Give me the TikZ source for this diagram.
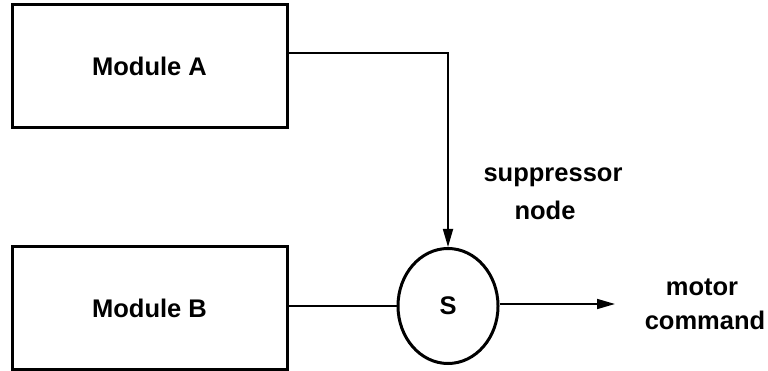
\documentclass[tikz,border=0pt]{standalone}
\usepackage{fontspec}
\setmainfont{Liberation Sans}
\usetikzlibrary{shapes.geometric,arrows.meta}

\newlength{\px}
\setlength{\px}{1pt}

\begin{document}
\begin{tikzpicture}[x=\px,y=-\px,
  font=\fontsize{25.5}{30}\selectfont\bfseries,
  modbox/.style={draw,line width=3\px,minimum width=275\px,minimum height=123\px,inner sep=0pt},
  supnode/.style={draw,ellipse,line width=3\px,minimum width=100\px,minimum height=115\px,inner sep=0pt},
  wire/.style={line width=1.7\px},
  tip/.style={-{Triangle[length=18pt,width=10pt]}}]
\useasboundingbox (0,0) rectangle (768,371);
% modules
\node (A) [modbox] at (149.5,66) {Module A};
\node (B) [modbox] at (149.5,308) {Module B};
% suppressor
\node (S) [supnode] at (448,306) {S};
\node (suplabel) [anchor=base] at (553,182) {suppressor};
\node (nodelabel) [anchor=base] at (545,220) {node};
% output
\coordinate (out) at (615,304);
\node (motlabel) [anchor=base] at (702,295) {motor};
\node (cmdlabel) [anchor=base] at (705,329) {command};
% wires
\draw[wire,tip] ([yshift=13pt]A.east) -| (S.north);
\draw[wire] (B.east |- S.west) -- (S.west);
\draw[wire,tip] (S.east |- out) -- (out);
\end{tikzpicture}
\end{document}
